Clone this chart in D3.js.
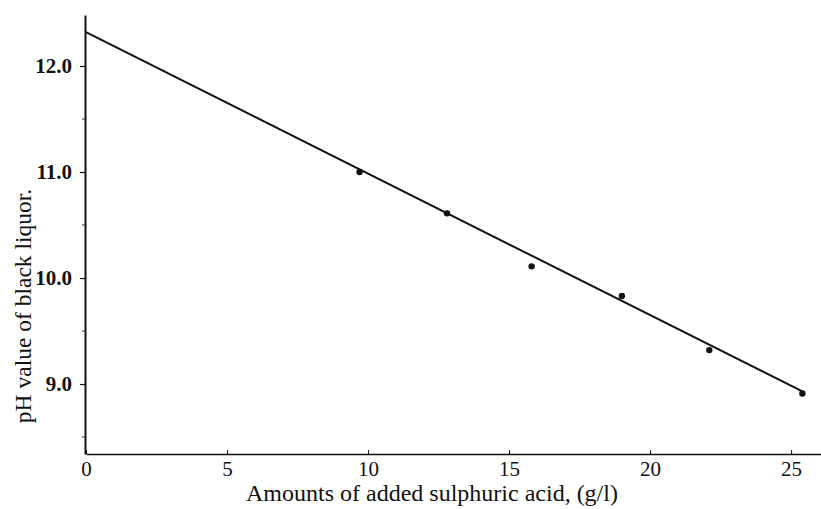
<!DOCTYPE html>
<html lang="en">
<head>
<meta charset="UTF-8">
<title>pH of black liquor vs added sulphuric acid</title>
<script src="https://cdnjs.cloudflare.com/ajax/libs/d3/7.8.5/d3.min.js"></script>
<style>
  body { margin: 0; background: #fff; }
  svg { display: block; }
  text { font-family: 'Liberation Serif', 'DejaVu Serif', serif; fill: #111; }
  .axis path, .axis line { stroke: #111; }
</style>
</head>
<body>
<div id="chart"></div>
<script>
// measured points (added acid g/l, pH)
const acid = [9.7, 12.8, 15.8, 19.0, 22.1, 25.4];
const ph = [11.0, 10.61, 10.11, 9.83, 9.32, 8.91];
// fitted straight line, end points
const fitAcid = [0, 25.4];
const fitPh = [12.32, 8.93];

const xTicks = [0, 5, 10, 15, 20, 25];
const yTicks = [9, 10, 11, 12];
const yMinor = [8.5, 9.5, 10.5, 11.5];

const width = 821, height = 509;

const x = d3.scaleLinear().domain([0, 26.06]).range([86, 821]);
const y = d3.scaleLinear().domain([8.34, 12.481]).range([454, 15]);

const svg = d3.select("#chart").append("svg")
    .attr("width", width).attr("height", height);

// y axis
const yAxis = svg.append("g").attr("class", "axis")
    .attr("transform", "translate(85,0)")
    .call(d3.axisLeft(y).tickValues(yTicks).tickFormat(d3.format(".1f"))
        .tickSize(5).tickSizeOuter(0).tickPadding(8));
yAxis.select(".domain").attr("stroke-width", 2);
yAxis.selectAll(".tick line").attr("stroke-width", 1.2);
yAxis.selectAll("text").attr("font-size", 21).attr("font-weight", "bold")
    .attr("font-family", "'Liberation Serif', serif");

svg.append("g").selectAll("line").data(yMinor).join("line")
    .attr("x1", 82).attr("x2", 85)
    .attr("y1", d => y(d)).attr("y2", d => y(d))
    .attr("stroke", "#333").attr("stroke-width", 1);

// x axis
const xAxis = svg.append("g").attr("class", "axis")
    .attr("transform", "translate(0,454)")
    .call(d3.axisBottom(x).tickValues(xTicks).tickFormat(d3.format("d"))
        .tickSize(-4).tickSizeOuter(0).tickPadding(7));
xAxis.select(".domain").attr("stroke-width", 1.6);
xAxis.selectAll(".tick line").attr("stroke-width", 1);
xAxis.selectAll("text").attr("font-size", 21)
    .attr("font-family", "'Liberation Serif', serif");

// axis titles
svg.append("text")
    .attr("x", 432).attr("y", 501)
    .attr("text-anchor", "middle")
    .attr("font-size", 24)
    .text("Amounts of added sulphuric acid, (g/l)");

svg.append("text")
    .attr("transform", "translate(31,306) rotate(-90)")
    .attr("text-anchor", "middle")
    .attr("font-size", 23.5)
    .text("pH value of black liquor.");

// fitted line
const fit = fitAcid.map((a, i) => [a, fitPh[i]]);
svg.append("path")
    .datum(fit)
    .attr("fill", "none")
    .attr("stroke", "#111")
    .attr("stroke-width", 2)
    .attr("d", d3.line().x(d => x(d[0])).y(d => y(d[1])));

// data points
const pts = acid.map((a, i) => [a, ph[i]]);
svg.append("g").selectAll("circle").data(pts).join("circle")
    .attr("cx", d => x(d[0]))
    .attr("cy", d => y(d[1]))
    .attr("r", 3.2)
    .attr("fill", "#111");
</script>
</body>
</html>
